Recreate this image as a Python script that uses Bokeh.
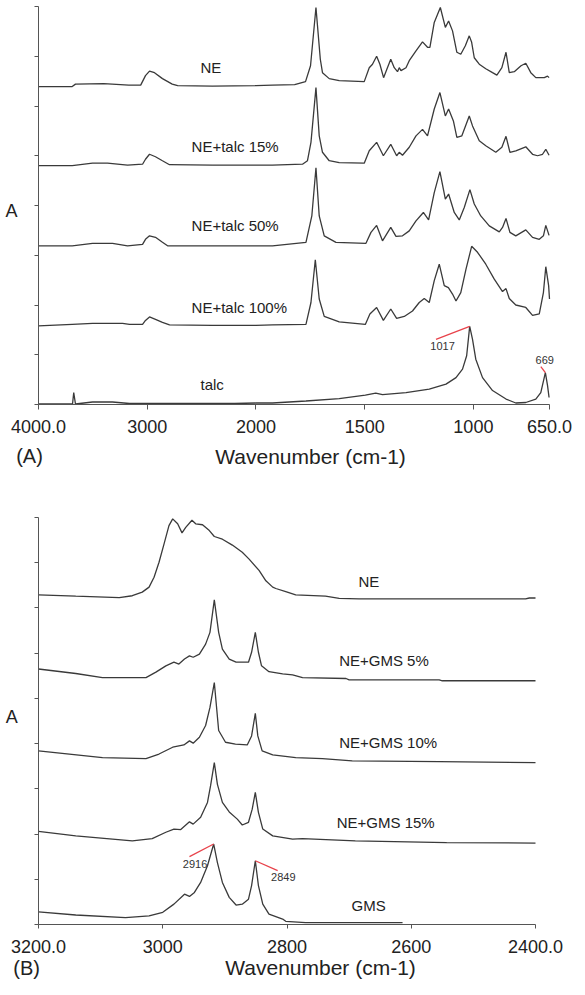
import numpy as np
from bokeh.plotting import figure
from bokeh.models import Range1d, FixedTicker, Label, CustomLabelingPolicy
from bokeh.layouts import column
from bokeh.embed import file_html
from bokeh.resources import INLINE
from bokeh.core.properties import value

FONT = "Liberation Sans"
LINE = "#3a3a3a"
RED = "#e8424a"

# ---------------- Panel A data (wavenumber, absorbance offset units) ----------------
a_ne_wn = [4000, 3690, 3660, 3400, 3170, 3060, 3016, 2979, 2933, 2860, 2770, 2720, 2400, 2000, 1924, 1822,
           1772, 1749, 1724, 1704, 1694, 1663, 1617, 1502, 1479, 1464, 1445, 1430, 1413, 1398, 1380, 1364,
           1349, 1341, 1333, 1310, 1295, 1264, 1234, 1211, 1200, 1180, 1152, 1129, 1114, 1096, 1076, 1058,
           1037, 1019, 1008, 996, 973, 943, 912, 892, 869, 850, 835, 812, 781, 759, 736, 713, 674, 659, 652]
a_ne_val = [6.39, 6.39, 6.44, 6.45, 6.42, 6.42, 6.61, 6.70, 6.67, 6.55, 6.44, 6.41, 6.40, 6.41, 6.42, 6.43,
            6.49, 6.81, 7.98, 6.94, 6.67, 6.55, 6.51, 6.49, 6.77, 6.84, 7.00, 6.84, 6.57, 6.74, 6.94, 6.77,
            6.69, 6.77, 6.71, 6.77, 6.91, 7.11, 7.29, 7.18, 7.18, 7.68, 7.98, 7.58, 7.71, 7.51, 7.08, 7.04,
            7.21, 7.41, 7.28, 6.97, 6.84, 6.75, 6.67, 6.62, 6.77, 7.08, 6.67, 6.69, 6.81, 6.86, 6.67, 6.57,
            6.57, 6.60, 6.57]

a_t15_wn = [4000, 3690, 3503, 3365, 3181, 3043, 3016, 2979, 2924, 2860, 2795, 2400, 2000, 1924, 1786, 1763,
            1747, 1724, 1709, 1694, 1663, 1617, 1502, 1479, 1445, 1414, 1380, 1353, 1341, 1326, 1295, 1264,
            1234, 1211, 1180, 1154, 1129, 1114, 1092, 1076, 1053, 1019, 1004, 973, 943, 897, 869, 850, 832,
            805, 759, 728, 705, 682, 667, 652]
a_t15_val = [4.80, 4.80, 4.85, 4.85, 4.81, 4.83, 4.93, 5.03, 4.98, 4.90, 4.82, 4.81, 4.81, 4.81, 4.83, 4.90,
             5.27, 6.37, 5.40, 5.07, 4.90, 4.86, 4.85, 5.10, 5.27, 5.00, 5.23, 5.00, 5.07, 5.01, 5.17, 5.40,
             5.53, 5.40, 5.94, 6.27, 5.80, 5.94, 5.70, 5.37, 5.40, 5.80, 5.60, 5.30, 5.20, 5.07, 5.17, 5.39,
             5.07, 5.10, 5.18, 5.03, 5.00, 5.03, 5.13, 5.01]

a_t50_wn = [4000, 3690, 3503, 3319, 3181, 3043, 3016, 2979, 2924, 2860, 2813, 2400, 2000, 1924, 1770, 1743,
            1724, 1709, 1686, 1632, 1494, 1471, 1445, 1418, 1380, 1356, 1326, 1295, 1264, 1230, 1206, 1180,
            1154, 1129, 1114, 1088, 1065, 1042, 1016, 996, 966, 927, 881, 866, 850, 832, 805, 759, 728, 697,
            678, 667, 652]
a_t50_val = [3.19, 3.19, 3.24, 3.24, 3.19, 3.22, 3.32, 3.39, 3.36, 3.26, 3.19, 3.19, 3.19, 3.19, 3.26, 3.79,
             4.76, 3.79, 3.39, 3.26, 3.24, 3.46, 3.60, 3.29, 3.56, 3.38, 3.39, 3.49, 3.69, 3.86, 3.71, 4.26,
             4.68, 4.13, 4.23, 3.86, 3.71, 3.96, 4.32, 4.03, 3.79, 3.59, 3.47, 3.56, 3.74, 3.46, 3.39, 3.51,
             3.36, 3.32, 3.39, 3.60, 3.40]

a_t100_wn = [4000, 3690, 3503, 3227, 3163, 3043, 3016, 2979, 2924, 2860, 2795, 2400, 2000, 1924, 1770, 1747,
             1727, 1709, 1686, 1617, 1497, 1476, 1445, 1414, 1380, 1353, 1318, 1280, 1249, 1226, 1203, 1180,
             1157, 1134, 1115, 1096, 1080, 1058, 1034, 1008, 981, 943, 904, 866, 850, 835, 805, 759, 728, 697,
             678, 667, 654, 650]
a_t100_val = [1.58, 1.61, 1.63, 1.63, 1.61, 1.61, 1.69, 1.76, 1.71, 1.65, 1.60, 1.59, 1.59, 1.60, 1.61, 2.05,
              2.91, 2.12, 1.77, 1.66, 1.61, 1.82, 1.95, 1.69, 1.92, 1.73, 1.77, 1.88, 2.05, 2.13, 2.05, 2.49,
              2.82, 2.39, 2.35, 2.22, 2.08, 2.25, 2.72, 3.18, 3.06, 2.82, 2.52, 2.27, 2.33, 2.13, 2.00, 1.95,
              1.79, 1.82, 2.25, 2.77, 2.39, 2.12]

a_talc_wn = [4000, 3687, 3676, 3660, 3503, 3320, 3163, 2197, 2000, 1924, 1770, 1617, 1497, 1449, 1418, 1310,
             1203, 1126, 1080, 1050, 1031, 1017, 1004, 989, 958, 912, 850, 805, 759, 713, 690, 669, 659, 652]
a_talc_val = [0.01, 0.01, 0.24, 0.01, 0.05, 0.05, 0.02, 0.02, 0.03, 0.03, 0.07, 0.12, 0.19, 0.23, 0.20, 0.24,
              0.31, 0.41, 0.54, 0.71, 0.98, 1.57, 1.31, 0.91, 0.54, 0.28, 0.11, 0.03, 0.04, 0.11, 0.24, 0.64,
              0.38, 0.14]

a_names = ["NE", "NE+talc 15%", "NE+talc 50%", "NE+talc 100%", "talc"]
a_name_wn = [2510, 2592, 2592, 2592, 2510]
a_name_val = [6.77, 5.19, 3.60, 1.95, 0.40]

a_peaks = ["1017", "669"]
a_peak_wn = [1017, 669]
a_peak_val = [1.57, 0.64]
a_peak_end_wn = [1172, 690]
a_peak_end_val = [1.31, 0.76]
a_peak_txt_wn = [1142, 672]
a_peak_txt_val = [1.17, 0.89]

a_xticks = [4000, 3000, 2000, 1500, 1000, 650]
a_xlabels = ["4000.0", "3000", "2000", "1500", "1000", "650.0"]
a_yticks = [0, 1, 2, 3, 4, 5, 6, 7, 8]

# ---------------- Panel B data ----------------
b_ne_wn = [3200, 3140, 3070, 3049, 3033, 3022, 3014, 3006, 2998, 2990, 2984, 2976, 2969, 2963, 2953, 2947,
           2936, 2925, 2917, 2904, 2888, 2872, 2861, 2845, 2834, 2823, 2818, 2802, 2786, 2738, 2716, 2684,
           2555, 2416, 2410, 2400]
b_ne_val = [7.29, 7.26, 7.23, 7.27, 7.35, 7.46, 7.68, 8.01, 8.41, 8.82, 8.97, 8.86, 8.66, 8.78, 8.94, 8.86,
            8.84, 8.71, 8.58, 8.52, 8.39, 8.23, 8.08, 7.83, 7.60, 7.46, 7.43, 7.36, 7.29, 7.26, 7.21, 7.20,
            7.20, 7.20, 7.22, 7.22]

b_g5_wn = [3200, 3140, 3097, 3027, 3011, 2995, 2982, 2974, 2965, 2957, 2951, 2941, 2931, 2924, 2917, 2910,
           2904, 2893, 2882, 2862, 2857, 2851, 2846, 2841, 2829, 2807, 2791, 2775, 2705, 2700, 2555, 2550, 2400]
b_g5_val = [5.65, 5.55, 5.46, 5.46, 5.58, 5.72, 5.80, 5.76, 5.87, 5.94, 5.91, 5.98, 6.20, 6.46, 7.18, 6.46,
            6.09, 5.87, 5.80, 5.80, 6.02, 6.46, 6.02, 5.72, 5.59, 5.54, 5.52, 5.46, 5.44, 5.41, 5.41, 5.39, 5.39]

b_g10_wn = [3200, 3097, 3027, 3006, 2984, 2966, 2957, 2951, 2941, 2931, 2924, 2917, 2910, 2899, 2883, 2864,
            2857, 2851, 2847, 2840, 2823, 2786, 2743, 2695, 2555, 2400]
b_g10_val = [3.84, 3.69, 3.67, 3.77, 3.92, 3.97, 4.06, 4.01, 4.14, 4.40, 4.80, 5.35, 4.29, 4.03, 3.99, 3.97,
             4.17, 4.67, 4.17, 3.84, 3.75, 3.69, 3.67, 3.62, 3.60, 3.58]

b_g15_wn = [3200, 3140, 3049, 3017, 2995, 2982, 2971, 2957, 2951, 2939, 2928, 2923, 2917, 2912, 2904, 2893,
            2880, 2872, 2862, 2856, 2851, 2846, 2839, 2823, 2791, 2775, 2690, 2543, 2400]
b_g15_val = [2.06, 1.96, 1.85, 1.90, 2.04, 2.11, 2.10, 2.27, 2.22, 2.37, 2.70, 3.07, 3.58, 3.10, 2.70, 2.49,
             2.33, 2.20, 2.26, 2.55, 2.92, 2.48, 2.11, 1.96, 1.89, 1.90, 1.85, 1.81, 1.80]

b_gms_wn = [3200, 3140, 3060, 3022, 3000, 2982, 2965, 2957, 2949, 2939, 2928, 2918, 2912, 2904, 2893, 2882,
            2872, 2862, 2857, 2851, 2846, 2839, 2829, 2807, 2802, 2770, 2614]
b_gms_val = [0.28, 0.21, 0.15, 0.19, 0.27, 0.45, 0.67, 0.62, 0.71, 0.93, 1.30, 1.78, 1.37, 0.93, 0.60, 0.43,
             0.45, 0.56, 0.86, 1.41, 0.86, 0.45, 0.23, 0.12, 0.07, 0.04, 0.04]

b_names = ["NE", "NE+GMS 5%", "NE+GMS 10%", "NE+GMS 15%", "GMS"]
b_name_wn = [2685, 2716, 2716, 2720, 2696]
b_name_val = [7.59, 5.83, 4.02, 2.25, 0.43]

b_peaks = ["2916", "2849"]
b_peak_wn = [2918, 2851]
b_peak_val = [1.78, 1.41]
b_peak_end_wn = [2957, 2815]
b_peak_end_val = [1.50, 1.19]
b_peak_txt_wn = [2948, 2806]
b_peak_txt_val = [1.33, 1.04]

b_xticks = [3200, 3000, 2800, 2600, 2400]
b_xlabels = ["3200.0", "3000", "2800", "2600", "2400.0"]
b_yticks = [0, 1, 2, 3, 4, 5, 6, 7, 8, 9]


def wn_to_u(wn):
    """Panel A axis: scale doubles below 2000 cm-1 (FTIR convention)."""
    w = np.asarray(wn, dtype=float)
    return np.where(w >= 2000, 4000 - w, 2000 + (2000 - w) * 2)


def padded(lo, hi, pad_lo_px, pad_hi_px, span_px):
    """Extend a data interval by pixel paddings so that the whole canvas is the frame."""
    s = (hi - lo) / span_px
    return lo - pad_lo_px * s, hi + pad_hi_px * s


W = 575
NO_LABELS = CustomLabelingPolicy(code="""
    for (let i = 0; i < indices.size; i++) { indices.unset(i) }
    return indices
""")


def make_fig(height, xlo, xhi, ylo, yhi, pad_l, pad_r, pad_t, pad_b):
    xr = padded(xlo, xhi, pad_l, pad_r, W - pad_l - pad_r)
    yr = padded(ylo, yhi, pad_b, pad_t, height - pad_t - pad_b)
    p = figure(width=W, height=height, output_backend="svg", toolbar_location=None,
               x_range=Range1d(*xr), y_range=Range1d(*yr),
               min_border=0, min_border_left=0, min_border_right=0, min_border_top=0, min_border_bottom=0)
    p.outline_line_color = None
    p.grid.visible = False
    p.background_fill_color = "white"
    p.border_fill_color = "white"
    for ax in p.axis:
        ax.axis_line_color = "#555555"
        ax.axis_line_width = 1
        ax.major_tick_line_color = "#555555"
        ax.minor_tick_line_color = None
        ax.major_tick_in = 0
    p.xaxis.fixed_location = ylo
    p.xaxis.bounds = (min(xlo, xhi), max(xlo, xhi))
    p.yaxis.fixed_location = xlo
    p.yaxis.bounds = (ylo, yhi)
    p.xaxis.major_tick_out = 5
    p.xaxis.major_label_text_font = FONT
    p.xaxis.major_label_text_font_size = "18px"
    p.xaxis.major_label_text_color = "#222222"
    p.xaxis.major_label_standoff = 10
    p.yaxis.major_tick_out = 4
    p.yaxis.major_label_policy = NO_LABELS
    return p


def txt(p, x, y, s, size, align="center"):
    p.add_layout(Label(x=x, y=y, text=s, text_font=FONT, text_font_size=size,
                       text_align=align, text_baseline="middle", text_color="#222222"))


# ---------------- Figure A ----------------
HA = 470
a_u_ticks = [float(t) for t in wn_to_u(a_xticks)]
pA = make_fig(HA, a_u_ticks[0], a_u_ticks[-1], a_yticks[0], a_yticks[-1], 38, 26, 6, 66)
pA.xaxis.ticker = FixedTicker(ticks=a_u_ticks)
pA.xaxis.major_label_overrides = {t: l for t, l in zip(a_u_ticks, a_xlabels)}
pA.yaxis.ticker = FixedTicker(ticks=a_yticks)

for wn, val in [(a_ne_wn, a_ne_val), (a_t15_wn, a_t15_val), (a_t50_wn, a_t50_val),
                (a_t100_wn, a_t100_val), (a_talc_wn, a_talc_val)]:
    pA.line(wn_to_u(wn), val, line_color=LINE, line_width=1.3)

pA.segment(x0=wn_to_u(a_peak_wn), y0=a_peak_val, x1=wn_to_u(a_peak_end_wn), y1=a_peak_end_val,
           line_color=RED, line_width=1.3)
pA.text(x=wn_to_u(a_peak_txt_wn), y=a_peak_txt_val, text=a_peaks, text_font=value(FONT),
        text_font_size=value("11px"), text_align="center", text_baseline="middle", text_color="#333333")
pA.text(x=wn_to_u(a_name_wn), y=a_name_val, text=a_names, text_font=value(FONT),
        text_font_size=value("15px"), text_align="left", text_baseline="middle", text_color="#222222")

txt(pA, -248, 3.88, "A", "18px")
txt(pA, -83, -1.045, "(A)", "20px")
txt(pA, 2502, -1.045, "Wavenumber (cm-1)", "21px")

# ---------------- Figure B ----------------
HB = 509
pB = make_fig(HB, b_xticks[0], b_xticks[-1], b_yticks[0], b_yticks[-1], 38, 40, 47, 55)
pB.xaxis.ticker = FixedTicker(ticks=b_xticks)
pB.xaxis.major_label_overrides = {t: l for t, l in zip(b_xticks, b_xlabels)}
pB.yaxis.ticker = FixedTicker(ticks=b_yticks)
pB.xaxis.major_tick_out = 4
pB.xaxis.major_label_standoff = 11

for wn, val in [(b_ne_wn, b_ne_val), (b_g5_wn, b_g5_val), (b_g10_wn, b_g10_val),
                (b_g15_wn, b_g15_val), (b_gms_wn, b_gms_val)]:
    pB.line(wn, val, line_color=LINE, line_width=1.3)

pB.segment(x0=b_peak_wn, y0=b_peak_val, x1=b_peak_end_wn, y1=b_peak_end_val,
           line_color=RED, line_width=1.3)
pB.text(x=b_peak_txt_wn, y=b_peak_txt_val, text=b_peaks, text_font=value(FONT),
        text_font_size=value("11px"), text_align="center", text_baseline="middle", text_color="#333333")
pB.text(x=b_name_wn, y=b_name_val, text=b_names, text_font=value(FONT),
        text_font_size=value("15px"), text_align="left", text_baseline="middle", text_color="#222222")

txt(pB, 3243, 4.58, "A", "18px")
txt(pB, 3219, -0.951, "(B)", "20px")
txt(pB, 2746, -0.951, "Wavenumber (cm-1)", "21px")

layout = column(pA, pB)
open("out.html", "w").write(file_html(layout, INLINE))
